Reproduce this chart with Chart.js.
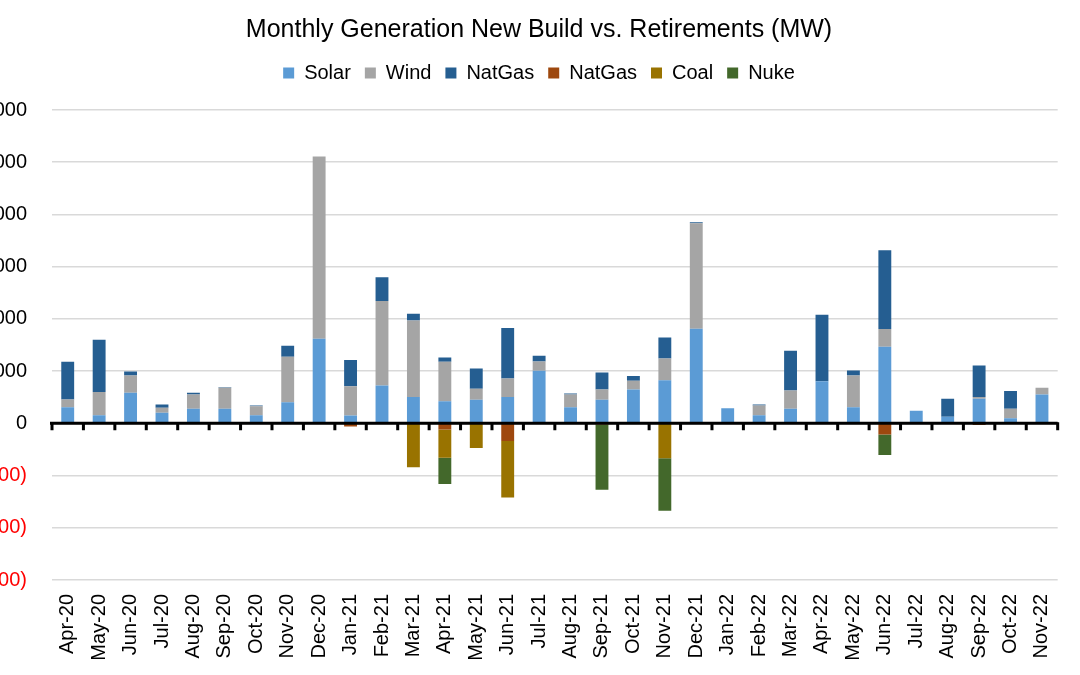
<!DOCTYPE html>
<html>
<head>
<meta charset="utf-8">
<script src="https://cdn.jsdelivr.net/npm/chart.js@4.4.1/dist/chart.umd.min.js"></script>
<style>
	html, body { margin: 0; padding: 0; background: #fff; }
	#wrap { position: relative; width: 1080px; height: 675px; }
</style>
</head>
<body>
<div id="wrap"><canvas id="genChart" width="1080" height="675"></canvas></div>
<script>
var months = [ "Apr-20", "May-20", "Jun-20", "Jul-20", "Aug-20", "Sep-20", "Oct-20", "Nov-20", "Dec-20",
		"Jan-21", "Feb-21", "Mar-21", "Apr-21", "May-21", "Jun-21", "Jul-21", "Aug-21", "Sep-21", "Oct-21", "Nov-21", "Dec-21",
		"Jan-22", "Feb-22", "Mar-22", "Apr-22", "May-22", "Jun-22", "Jul-22", "Aug-22", "Sep-22", "Oct-22", "Nov-22" ];

// new build (MW)
var solar = [ 310, 156, 585, 201, 278, 278, 156, 406, 1620,
		150, 725, 502, 425, 450, 502, 1006, 310, 450, 649, 827, 1811,
		291, 156, 278, 808, 310, 1466, 240, 125, 470, 99, 553 ];
var wind = [ 148, 442, 332, 96, 275, 403, 173, 869, 3489,
		562, 1617, 1469, 754, 211, 357, 179, 243, 199, 166, 416, 2020,
		0, 186, 351, 0, 607, 339, 0, 0, 32, 179, 128 ];
var natGas = [ 722, 1003, 77, 64, 32, 12, 13, 210, 0,
		499, 454, 128, 83, 390, 965, 109, 19, 325, 89, 402, 19,
		0, 19, 761, 1272, 96, 1508, 0, 345, 607, 339, 0 ];

// retirements (MW)
var natGasRet = [ 0, 0, 0, 0, 0, 0, 0, 0, 0,
		-60, 0, 0, -120, 0, -340, 0, 0, -20, 0, 0, 0,
		0, 0, 0, 0, 0, -215, 0, 0, -30, 0, 0 ];
var coal = [ 0, 0, 0, 0, 0, 0, 0, 0, 0,
		0, 0, -840, -540, -470, -1080, 0, 0, 0, 0, -670, 0,
		0, 0, 0, 0, 0, 0, 0, 0, 0, 0, 0 ];
var nuke = [ 0, 0, 0, 0, 0, 0, 0, 0, 0,
		0, 0, 0, -500, 0, 0, 0, 0, -1250, 0, -1005, 0,
		0, 0, 0, 0, 0, -390, 0, 0, 0, 0, 0 ];

var yTicks = [ -3000, -2000, -1000, 0, 1000, 2000, 3000, 4000, 5000, 6000 ];

var FONT = "'Liberation Sans', Arial, sans-serif";

function formatTick(v) {
	var s = Math.abs(v).toLocaleString("en-US");
	return v < 0 ? "(" + s + ")" : s;
}

// black zero line with tick marks between months
var zeroAxis = {
	id : "zeroAxis",
	afterDatasetsDraw : function(chart) {
		var ctx = chart.ctx;
		var area = chart.chartArea;
		var x = chart.scales.x;
		var y0 = chart.scales.y.getPixelForValue(0);
		var step = x.getPixelForValue(1) - x.getPixelForValue(0);
		ctx.save();
		ctx.strokeStyle = "#000";
		ctx.lineWidth = 3;
		ctx.beginPath();
		ctx.moveTo(area.left - 2, y0);
		ctx.lineTo(area.right, y0);
		for (var i = 0; i <= months.length; i++) {
			var px = x.getPixelForValue(i) - step / 2;
			ctx.moveTo(px, y0 - 1);
			ctx.lineTo(px, y0 + 7);
		}
		ctx.stroke();
		ctx.restore();
	}
};

// extra room under the legend
var legendGap = {
	id : "legendGap",
	beforeInit : function(chart) {
		var fit = chart.legend.fit;
		chart.legend.fit = function() {
			fit.call(this);
			this.height += 17;
		};
	}
};

function drawChart() {
	var ctx = document.getElementById("genChart");
	var data = {
		labels : months,
		datasets : [
			{ label : "Solar", data : solar, backgroundColor : "#5B9BD5" },
			{ label : "Wind", data : wind, backgroundColor : "#A5A5A5" },
			{ label : "NatGas", data : natGas, backgroundColor : "#255E91" },
			{ label : "NatGas", data : natGasRet, backgroundColor : "#9E480E" },
			{ label : "Coal", data : coal, backgroundColor : "#997300" },
			{ label : "Nuke", data : nuke, backgroundColor : "#43682B" }
		]
	};

	new Chart(ctx, {
		type : "bar",
		data : data,
		plugins : [ zeroAxis, legendGap ],
		options : {
			responsive : false,
			animation : false,
			layout : { padding : { right : 2 } },
			datasets : { bar : { barPercentage : 0.41, categoryPercentage : 1, stack : "gen" } },
			plugins : {
				title : {
					display : true,
					text : "Monthly Generation New Build vs. Retirements (MW)",
					color : "#000",
					font : { family : FONT, size : 25, weight : "normal" },
					padding : { top : 15, bottom : 4 }
				},
				legend : {
					position : "top",
					labels : {
						color : "#000",
						font : { family : FONT, size : 20 },
						boxWidth : 11,
						boxHeight : 11,
						padding : 14
					}
				},
				tooltip : { enabled : false }
			},
			scales : {
				x : {
					stacked : true,
					grid : { display : false, drawTicks : false },
					border : { display : false },
					ticks : {
						color : "#000",
						font : { family : FONT, size : 20 },
						minRotation : 90,
						maxRotation : 90,
						autoSkip : false,
						padding : 14
					},
					afterFit : function(scale) { scale.height = 95; }
				},
				y : {
					stacked : true,
					min : -3000,
					max : 6000,
					afterBuildTicks : function(scale) {
						scale.ticks = yTicks.map(function(v) { return { value : v }; });
					},
					grid : { color : "#D9D9D9", lineWidth : 1.5, drawTicks : false },
					border : { display : false },
					ticks : {
						padding : 25,
						font : { family : FONT, size : 20 },
						color : function(c) { return c.tick.value < 0 ? "#FF0000" : "#000"; },
						callback : function(v) { return formatTick(v); }
					},
					afterFit : function(scale) { scale.width = 52; }
				}
			}
		}
	});
}

drawChart();
</script>
</body>
</html>
